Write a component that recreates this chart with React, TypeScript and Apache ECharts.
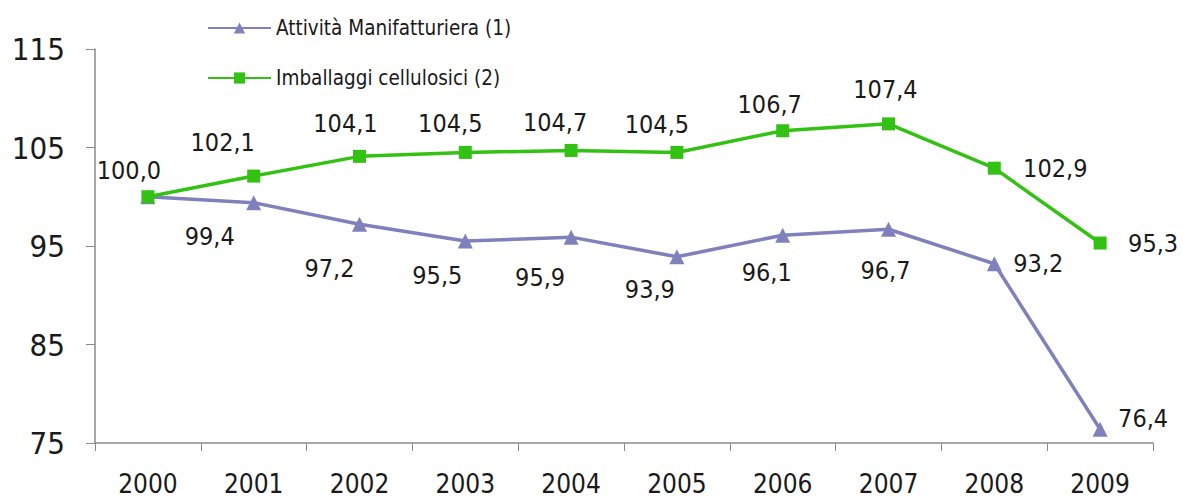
import React, { useEffect, useRef } from "react";
import * as echarts from "echarts";

const years = ["2000", "2001", "2002", "2003", "2004", "2005", "2006", "2007", "2008", "2009"];
const manifatturiera = [100.0, 99.4, 97.2, 95.5, 95.9, 93.9, 96.1, 96.7, 93.2, 76.4];
const imballaggi = [100.0, 102.1, 104.1, 104.5, 104.7, 104.5, 106.7, 107.4, 102.9, 95.3];
const yTicks = [75, 85, 95, 105, 115];

// label offsets (style only)
const manifOffsets: (number[] | null)[] = [null, [-44, 34], [-30, 44], [-28, 34], [-31, 40], [-27, 33], [-16, 37], [-3, 41], [44, 0], [43, -11]];
const imbOffsets: number[][] = [[-19, -26], [-31, -34], [-14, -33], [-15, -29], [-16, -28], [-20, -28], [-13, -26], [-3, -34], [61, 0], [53, 0]];

const FONT = "'DejaVu Sans Condensed', 'DejaVu Sans', sans-serif";
const PURPLE = "#8080bd";
const GREEN = "#33c213";

const fmt = (v: number) => v.toFixed(1).replace(".", ",");

export default function App() {
  const ref = useRef<HTMLDivElement>(null);
  useEffect(() => {
    document.body.style.margin = "0";
    const chart = echarts.init(ref.current!, null, { renderer: "svg" });
    const labelBase = {
      show: true,
      position: "inside" as const,
      fontSize: 25,
      fontFamily: FONT,
      color: "#1a1a1a",
      formatter: (p: any) => fmt(p.value),
    };
    chart.setOption({
      animation: false,
      backgroundColor: "#ffffff",
      grid: { left: 95, right: 30, top: 49, bottom: 57, containLabel: false },
      legend: {
        orient: "vertical",
        left: 202,
        top: 12,
        itemWidth: 63,
        itemHeight: 14,
        itemGap: 28,
        textStyle: { fontSize: 20.5, fontFamily: FONT, color: "#1a1a1a", lineHeight: 22 },
        data: ["Attività Manifatturiera (1)", "Imballaggi cellulosici (2)"],
      },
      xAxis: {
        type: "category",
        data: years,
        boundaryGap: true,
        axisLine: { lineStyle: { color: "#8a8a8a", width: 1.5 } },
        axisTick: { show: true, length: 8, lineStyle: { color: "#8a8a8a" } },
        axisLabel: { fontSize: 26, fontFamily: FONT, color: "#1a1a1a", margin: 28 },
        splitLine: { show: false },
      },
      yAxis: {
        type: "value",
        min: yTicks[0],
        max: yTicks[yTicks.length - 1],
        interval: 10,
        axisLine: { show: true, lineStyle: { color: "#8a8a8a", width: 1.5 } },
        axisTick: { show: true, length: 9, lineStyle: { color: "#8a8a8a" } },
        axisLabel: { fontSize: 31, fontFamily: FONT, color: "#1a1a1a", margin: 30 },
        splitLine: { show: false },
      },
      series: [
        {
          name: "Attività Manifatturiera (1)",
          type: "line",
          data: manifatturiera.map((v, i) => ({
            value: v,
            label: manifOffsets[i] ? { ...labelBase, offset: manifOffsets[i] } : { show: false },
          })),
          symbol: "triangle",
          symbolSize: 15,
          lineStyle: { color: PURPLE, width: 3.5 },
          itemStyle: { color: PURPLE },
          z: 2,
        },
        {
          name: "Imballaggi cellulosici (2)",
          type: "line",
          data: imballaggi.map((v, i) => ({
            value: v,
            label: { ...labelBase, offset: imbOffsets[i] },
          })),
          symbol: "rect",
          symbolSize: 13,
          lineStyle: { color: GREEN, width: 3.5 },
          itemStyle: { color: GREEN },
          z: 3,
        },
      ],
    });
    return () => chart.dispose();
  }, []);
  return <div ref={ref} style={{ position: "absolute", left: 0, top: 0, width: 1183, height: 500 }} />;
}
